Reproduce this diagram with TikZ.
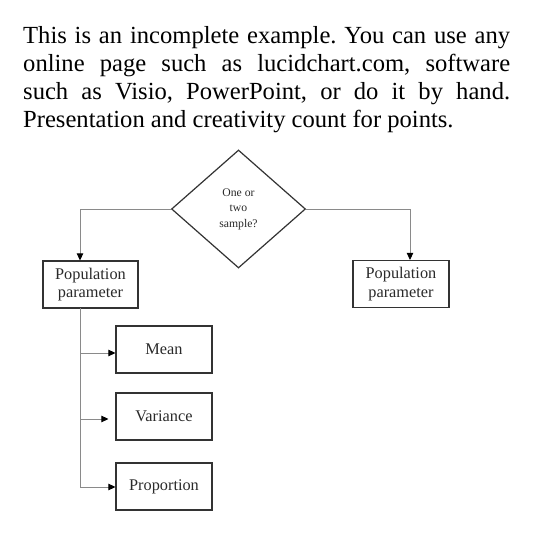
\documentclass[tikz,border=0pt]{standalone}
\usepackage{fontspec}
\setmainfont{Liberation Serif}
\usetikzlibrary{shapes.geometric,arrows.meta}
\definecolor{boxline}{HTML}{333333}
\definecolor{conn}{HTML}{8A8A8A}
\definecolor{dtext}{HTML}{2A2A2A}
\tikzset{
  paraline/.style={anchor=base west, inner sep=0pt, font=\fontsize{24.6}{28}\selectfont},
  pbox/.style={draw=boxline, line width=1.2pt, rectangle, inner sep=0pt,
    minimum width=96pt, minimum height=47pt, align=center, text=dtext,
    font=\fontsize{16.3}{18.5}\selectfont},
  decide/.style={draw=boxline, line width=1.2pt, diamond, inner sep=0pt,
    minimum width=134pt, minimum height=118pt, aspect=1.13, align=center, text=dtext,
    font=\fontsize{11.7}{15.5}\selectfont},
  conline/.style={draw=conn, line width=0.9pt,
    -{Triangle[length=7pt,width=6.5pt,color=black]}},
  plainline/.style={draw=conn, line width=0.9pt}
}
\begin{document}
\begin{tikzpicture}[x=1pt,y=-1pt]
\useasboundingbox (0,0) rectangle (547,545);
\fill[white] (0,0) rectangle (547,545);
\frenchspacing
\node[paraline] (para1) at (23,44) {\makebox[487pt][s]{This is an incomplete example. You can use any}};
\node[paraline] (para2) at (23,72) {\makebox[487pt][s]{online page such as lucidchart.com, software}};
\node[paraline] (para3) at (23,100) {\makebox[487pt][s]{such as Visio, PowerPoint, or do it by hand.}};
\node[paraline] (para4) at (23,128) {Presentation and creativity count for points.};

\node[decide] (dec) at (238.5,209) {One or\\two\\sample?};
\node[pbox, minimum width=95pt] (popL) at (90.5,284.5) {Population\\parameter};
\node[pbox] (popR) at (401,284) {Population\\parameter};
\node[pbox] (mean) at (164,349.5) {Mean};
\node[pbox] (var) at (164,416.5) {Variance};
\node[pbox] (prop) at (164,486.5) {Proportion};

\coordinate (cl) at (80,209);
\coordinate (cr) at (410,209);
\coordinate (t0) at (80,308);
\coordinate (t1) at (80,353);
\coordinate (t2) at (80,419);
\coordinate (t3) at (80,487);

\draw[conline] (dec.west) -- (cl) -- (cl |- popL.north);
\draw[conline] (dec.east) -- (cr) -- (cr |- popR.north);
\draw[plainline] (t0) -- (t3);
\draw[conline] (t1) -- (t1 -| mean.west);
\draw[conline, shorten >=7pt] (t2) -- (t2 -| var.west);
\draw[conline] (t3) -- (t3 -| prop.west);
\end{tikzpicture}
\end{document}
